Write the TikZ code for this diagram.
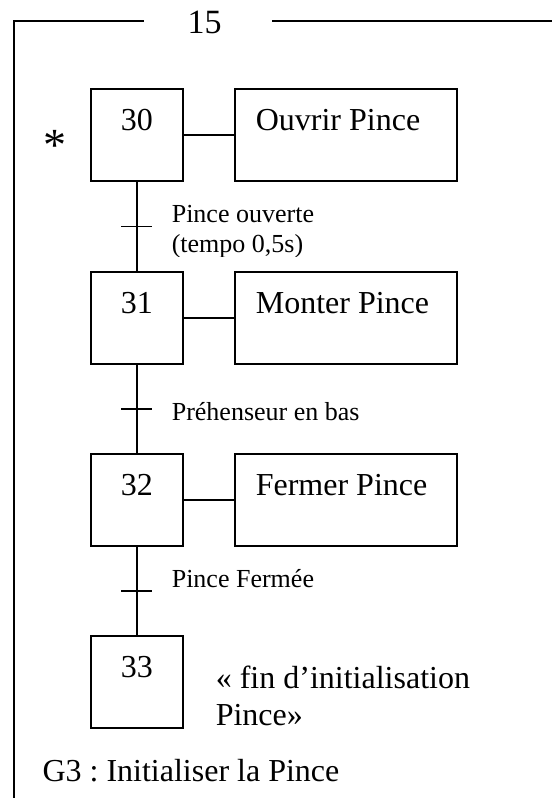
\documentclass[tikz,border=0pt]{standalone}
\usepackage{fontspec}
\setmainfont{Liberation Serif}
\usetikzlibrary{calc}
\frenchspacing
\begin{document}
\begin{tikzpicture}[x=1pt,y=-1pt,line width=1.6pt,
  stepbox/.style={draw,line width=1.6pt,minimum width=92pt,minimum height=92pt,inner sep=0pt,anchor=north west},
  actbox/.style={draw,line width=1.6pt,minimum width=222pt,minimum height=92pt,inner sep=0pt,anchor=north west},
  bigtxt/.style={font=\fontsize{32}{37}\selectfont,inner sep=0pt},
  smalltxt/.style={font=\fontsize{26}{30}\selectfont,inner sep=0pt,anchor=base west},
  bar/.style={line width=1.6pt}]
\useasboundingbox (0,0) rectangle (552,798);
% frame
\coordinate (fb) at (14,798);
\coordinate (fc) at (14,21);
\coordinate (fl) at (144,21);
\coordinate (fr) at (272,21);
\coordinate (fe) at (552,21);
\draw (fb) -- (fc) -- (fl);
\draw (fr) -- (fe);
\node[font=\fontsize{34}{40}\selectfont,inner sep=0pt,anchor=base] (t15) at (204.5,33) {15};
% steps
\node[stepbox] (s30) at (90,88) {};
\node[stepbox] (s31) at (90,271) {};
\node[stepbox] (s32) at (90,453) {};
\node[stepbox] (s33) at (90,635) {};
% actions
\node[actbox] (a30) at (234,88) {};
\node[actbox] (a31) at (234,271) {};
\node[actbox] (a32) at (234,453) {};
% step numbers
\path (s30.north) ++(0,42) node[bigtxt,anchor=base] (n30) {30};
\path (s31.north) ++(0,42) node[bigtxt,anchor=base] (n31) {31};
\path (s32.north) ++(0,42) node[bigtxt,anchor=base] (n32) {32};
\path (s33.north) ++(0,42) node[bigtxt,anchor=base] (n33) {33};
% action texts
\path (a30.north west) ++(21,42) node[bigtxt,anchor=base west] (x30) {Ouvrir Pince};
\path (a31.north west) ++(21,42) node[bigtxt,anchor=base west] (x31) {Monter Pince};
\path (a32.north west) ++(21,42) node[bigtxt,anchor=base west] (x32) {Fermer Pince};
% links
\draw (s30.east) -- (a30.west);
\draw (s31.east) -- (a31.west);
\draw (s32.east) -- (a32.west);
% vertical links
\draw (s30.south) -- (s31.north);
\draw (s31.south) -- (s32.north);
\draw (s32.south) -- (s33.north);
% transitions
\coordinate (t1) at ($(s30.south)!0.5!(s31.north)$);
\coordinate (t2) at ($(s31.south)!0.5!(s32.north)$);
\coordinate (t3) at ($(s32.south)!0.5!(s33.north)$);
\draw[bar] ($(t1)+(-15.5,0)$) -- ($(t1)+(15.5,0)$);
\draw[bar] ($(t2)+(-15.5,0)$) -- ($(t2)+(15.5,0)$);
\draw[bar] ($(t3)+(-15.5,0)$) -- ($(t3)+(15.5,0)$);
% transition labels
\node[smalltxt] (l1a) at (171,222) {Pince ouverte};
\begin{scope}
\clip (160,230) rectangle (420,256);
\node[smalltxt] (l1b) at (171,252) {(tempo 0,5s)};
\end{scope}
\node[smalltxt] (l2) at (171,420) {Préhenseur en bas};
\node[smalltxt] (l3) at (171,587) {Pince Fermée};
% initial step mark
\node[font=\fontsize{46}{50}\selectfont,inner sep=0pt,anchor=base] (star) at (54.5,160.5) {*};
% end comment
\node[bigtxt,anchor=base west] (c1) at (215,688) {« fin d’initialisation};
\node[bigtxt,anchor=base west] (c2) at (215,725) {Pince»};
% title
\node[bigtxt,anchor=base west] (g3) at (41.7,781.7) {G3 : Initialiser la Pince};
\end{tikzpicture}
\end{document}
